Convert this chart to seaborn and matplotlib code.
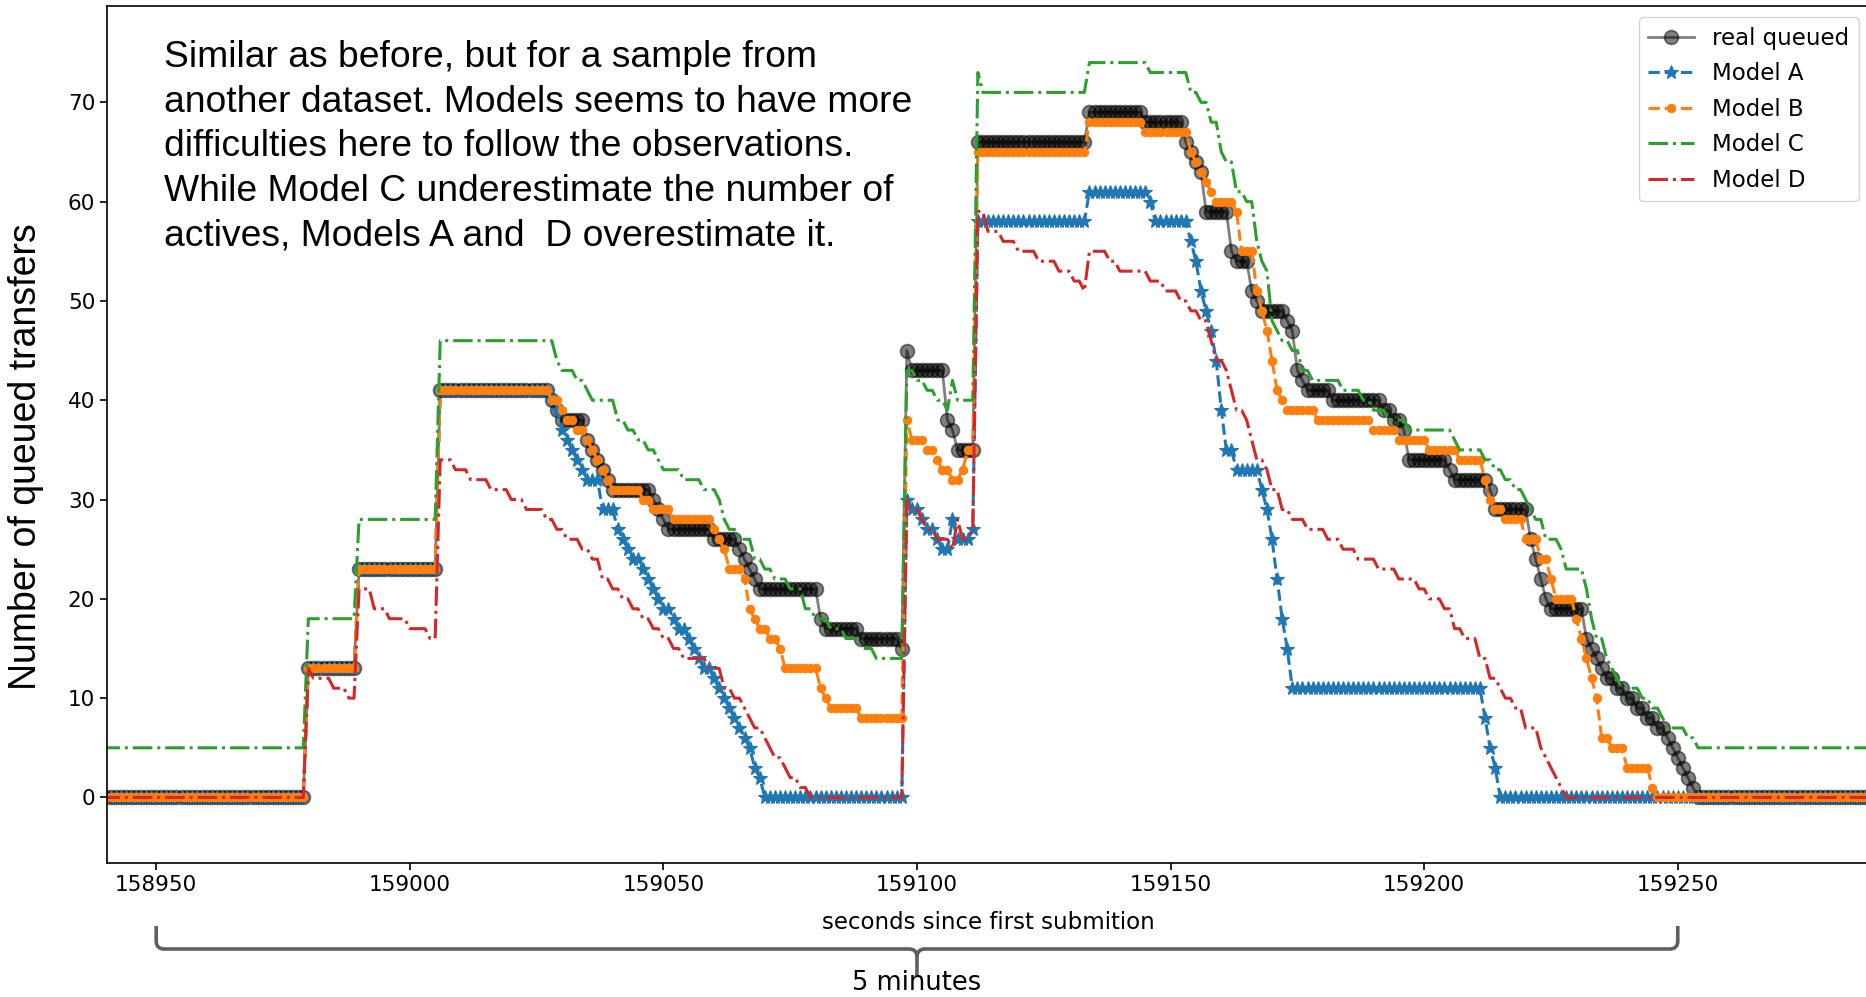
import numpy as np
import pandas as pd
import matplotlib
matplotlib.use("Agg")
import matplotlib.pyplot as plt
import seaborn as sns
from matplotlib.path import Path
from matplotlib.patches import PathPatch

# ---- data: (second where the value changes, new value) ----
real_t = [158939, 158980, 158990, 159006, 159028, 159029, 159030, 159035, 159036, 159037,
          159038, 159039, 159040, 159048, 159049, 159050, 159051, 159060, 159065, 159066,
          159067, 159068, 159069, 159081, 159082, 159089, 159097, 159098, 159099, 159106,
          159107, 159108, 159112, 159134, 159145, 159153, 159154, 159155, 159156, 159157,
          159162, 159163, 159166, 159167, 159168, 159173, 159174, 159175, 159176, 159177,
          159182, 159192, 159194, 159196, 159197, 159205, 159206, 159213, 159214, 159221,
          159222, 159223, 159224, 159225, 159232, 159233, 159234, 159235, 159236, 159238,
          159240, 159242, 159244, 159246, 159248, 159249, 159250, 159251, 159252, 159253,
          159254]
real_v = [0, 13, 23, 41, 40, 39, 38, 36, 35, 34,
          33, 32, 31, 30, 29, 28, 27, 26, 25, 24,
          23, 22, 21, 18, 17, 16, 15, 45, 43, 38,
          37, 35, 66, 69, 68, 66, 65, 64, 63, 59,
          55, 54, 51, 50, 49, 48, 47, 43, 42, 41,
          40, 39, 38, 37, 34, 33, 32, 31, 29, 26,
          24, 22, 20, 19, 16, 15, 14, 13, 12, 11,
          10, 9, 8, 7, 6, 5, 4, 3, 2, 1,
          0]

model_a_t = [158939, 158980, 158990, 159006, 159028, 159029, 159030, 159031, 159032, 159033,
             159034, 159035, 159038, 159041, 159042, 159043, 159044, 159046, 159047, 159048,
             159049, 159050, 159052, 159053, 159055, 159056, 159057, 159058, 159060, 159061,
             159062, 159063, 159064, 159065, 159066, 159067, 159068, 159069, 159070, 159098,
             159099, 159101, 159102, 159104, 159105, 159107, 159108, 159111, 159112, 159134,
             159146, 159147, 159154, 159155, 159156, 159157, 159158, 159159, 159160, 159161,
             159163, 159168, 159169, 159170, 159171, 159172, 159173, 159174, 159212, 159213,
             159214, 159215]
model_a_v = [0, 13, 23, 41, 40, 39, 37, 36, 35, 34,
             33, 32, 29, 27, 26, 25, 24, 23, 22, 21,
             20, 19, 18, 17, 16, 15, 14, 13, 12, 11,
             10, 9, 8, 7, 6, 5, 3, 2, 0, 30,
             29, 28, 27, 26, 25, 28, 26, 27, 58, 61,
             60, 58, 56, 54, 51, 49, 47, 44, 39, 35,
             33, 31, 29, 26, 22, 18, 15, 11, 8, 5,
             3, 0]

model_b_t = [158939, 158980, 158990, 159006, 159028, 159030, 159031, 159033, 159035, 159036,
             159037, 159038, 159039, 159040, 159046, 159048, 159052, 159060, 159061, 159062,
             159063, 159066, 159067, 159068, 159069, 159071, 159073, 159074, 159081, 159082,
             159083, 159089, 159098, 159099, 159102, 159104, 159105, 159107, 159109, 159110,
             159112, 159134, 159145, 159154, 159155, 159156, 159157, 159158, 159159, 159163,
             159164, 159167, 159168, 159169, 159170, 159171, 159172, 159173, 159179, 159190,
             159195, 159201, 159207, 159212, 159213, 159214, 159216, 159220, 159223, 159225,
             159226, 159230, 159231, 159232, 159233, 159234, 159235, 159237, 159240, 159245,
             159246]
model_b_v = [0, 13, 23, 41, 40, 39, 38, 37, 36, 35,
             34, 33, 32, 31, 30, 29, 28, 27, 26, 25,
             23, 22, 19, 18, 17, 16, 15, 13, 11, 10,
             9, 8, 38, 36, 35, 34, 33, 32, 33, 35,
             65, 68, 67, 65, 64, 63, 62, 61, 60, 59,
             55, 51, 49, 47, 44, 41, 40, 39, 38, 37,
             36, 35, 34, 32, 30, 29, 28, 26, 24, 22,
             20, 18, 16, 14, 12, 10, 6, 5, 3, 1,
             0]

model_c_t = [158939, 158980, 158990, 159006, 159029, 159030, 159033, 159035, 159036, 159041,
             159043, 159045, 159047, 159049, 159050, 159054, 159058, 159061, 159062, 159063,
             159065, 159068, 159070, 159072, 159075, 159078, 159080, 159083, 159086, 159089,
             159092, 159098, 159100, 159102, 159104, 159106, 159107, 159108, 159112, 159113,
             159134, 159146, 159154, 159156, 159158, 159160, 159161, 159163, 159165, 159167,
             159168, 159169, 159170, 159171, 159172, 159174, 159176, 159178, 159184, 159188,
             159190, 159193, 159197, 159206, 159207, 159212, 159214, 159216, 159218, 159220,
             159221, 159222, 159224, 159227, 159228, 159232, 159233, 159234, 159236, 159237,
             159238, 159239, 159243, 159245, 159247, 159248, 159252, 159254]
model_c_v = [5, 18, 28, 46, 44, 43, 42, 41, 40, 38,
             37, 36, 35, 34, 33, 32, 31, 30, 28, 27,
             26, 24, 23, 22, 21, 19, 18, 17, 16, 15,
             14, 43, 42, 41, 40, 39, 42, 40, 73, 71,
             74, 73, 71, 70, 68, 65, 64, 61, 60, 56,
             54, 53, 48, 47, 46, 45, 43, 42, 41, 40,
             39, 38, 37, 36, 35, 34, 33, 32, 31, 30,
             29, 28, 26, 25, 23, 21, 18, 16, 14, 13,
             12, 11, 10, 9, 8, 7, 6, 5]

model_d_t = [158939, 158980, 158981, 158985, 158988, 158990, 158993, 158996, 159000, 159004,
             159006, 159009, 159012, 159016, 159020, 159023, 159027, 159029, 159031, 159034,
             159036, 159038, 159040, 159042, 159044, 159046, 159048, 159050, 159052, 159054,
             159059, 159062, 159064, 159066, 159067, 159068, 159070, 159071, 159072, 159074,
             159075, 159077, 159079, 159098, 159099, 159101, 159102, 159104, 159107, 159108,
             159109, 159111, 159112, 159114, 159117, 159120, 159124, 159128, 159131, 159133,
             159134, 159138, 159140, 159146, 159149, 159152, 159154, 159156, 159158, 159159,
             159161, 159162, 159163, 159165, 159166, 159167, 159169, 159170, 159172, 159174,
             159177, 159181, 159184, 159187, 159191, 159195, 159199, 159201, 159204, 159206,
             159208, 159211, 159213, 159215, 159216, 159218, 159220, 159223, 159224, 159225,
             159226, 159227, 159228]
model_d_v = [0, 13, 12, 11, 10, 21, 19, 18, 17, 16,
             34, 33, 32, 31, 30, 29, 28, 27, 26, 25,
             24, 22, 21, 20, 19, 18, 17, 16, 15, 14,
             13, 11, 10, 9, 8, 7, 6, 5, 4, 3,
             2, 1, 0, 30, 29, 28, 27, 26, 25, 28,
             26, 27, 59, 57, 56, 55, 54, 53, 52, 51,
             55, 54, 53, 52, 51, 50, 49, 48, 46, 44,
             43, 41, 39, 38, 36, 34, 33, 31, 29, 28,
             27, 26, 25, 24, 23, 22, 21, 20, 19, 17,
             16, 14, 12, 11, 10, 9, 7, 5, 4, 3,
             2, 1, 0]

series_names = ["real queued", "Model A", "Model B", "Model C", "Model D"]
x_ticks = [158950, 159000, 159050, 159100, 159150, 159200, 159250]
y_ticks = [0, 10, 20, 30, 40, 50, 60, 70]
bracket_start = 158950
bracket_span = 300  # 5 minutes

note = ("Similar as before, but for a sample from\n"
        "another dataset. Models seems to have more\n"
        "difficulties here to follow the observations.\n"
        "While Model C underestimate the number of\n"
        "actives, Models A and  D overestimate it.")

# one sample per second, holding each read value until the next change
t = np.arange(158939, 159291)


def hold(change_t, change_v):
    idx = np.searchsorted(change_t, t, side="right") - 1
    return np.asarray(change_v)[idx]


df = pd.DataFrame({"t": t,
                   "real queued": hold(real_t, real_v),
                   "Model A": hold(model_a_t, model_a_v),
                   "Model B": hold(model_b_t, model_b_v),
                   "Model C": hold(model_c_t, model_c_v),
                   "Model D": hold(model_d_t, model_d_v)})

plt.rcParams['font.family'] = ['DejaVu Sans']
plt.rcParams['axes.linewidth'] = 1.2

fig = plt.figure(figsize=(18.66, 9.97), dpi=100)
ax = fig.add_axes([107 / 1866, 134 / 997, 1763 / 1866, 857 / 997])

styles = {
    "real queued": dict(color="k", alpha=0.5, marker="o", markersize=10, markeredgecolor="k",
                        markeredgewidth=1.2, linestyle="-", linewidth=2.0),
    "Model A": dict(color="tab:blue", marker="*", markersize=10, markeredgecolor="tab:blue",
                    markeredgewidth=0.8, linestyle="--", linewidth=2.2),
    "Model B": dict(color="tab:orange", marker=".", markersize=12, markeredgecolor="tab:orange",
                    markeredgewidth=0.8, linestyle="--", linewidth=2.2),
    "Model C": dict(color="tab:green", linestyle="-.", linewidth=2.2),
    "Model D": dict(color="tab:red", linestyle="-.", linewidth=2.2),
}

for name in series_names:
    sns.lineplot(data=df, x="t", y=name, ax=ax, label=name, estimator=None, sort=False,
                 **styles[name])

ax.set_xlim(158940.3, 159287.9)
ax.set_ylim(-6.6, 79.7)
ax.set_xticks(x_ticks)
ax.set_yticks(y_ticks)
ax.ticklabel_format(useOffset=False, style="plain", axis="x")
ax.tick_params(labelsize=15.5, length=5, width=1.2)
ax.set_xlabel("seconds since first submition", fontsize=16.5, labelpad=12)
ax.set_ylabel("")
ax.legend(loc="upper right", fontsize=16.5, frameon=True, handlelength=2.0,
          labelspacing=0.55)

fig.text(26 / 1866, 1 - 457 / 997, "Number of queued transfers", rotation=90,
         ha="center", va="center", fontsize=27, family=["Liberation Sans"])
fig.text(164 / 1866, 1 - 40 / 997, note, ha="left", va="top", fontsize=26.8,
         family=["Liberation Sans"], linespacing=1.36)

# curly bracket under the x axis marking 5 minutes
W, H = fig.bbox.width, fig.bbox.height
xl = ax.transData.transform((bracket_start, 0))[0] / W
xr = ax.transData.transform((bracket_start + bracket_span, 0))[0] / W
xm = (xl + xr) / 2
y_arm = 71 / H
y_line = 48 / H
y_tip = 20 / H
rx, ry = 8 / W, 8 / H
verts = [(xl, y_arm), (xl, y_line + ry), (xl, y_line), (xl + rx, y_line),
         (xm - rx, y_line), (xm, y_line), (xm, y_line - ry), (xm, y_tip),
         (xm, y_line - ry), (xm, y_line), (xm + rx, y_line),
         (xr - rx, y_line), (xr, y_line), (xr, y_line + ry), (xr, y_arm)]
codes = [Path.MOVETO, Path.LINETO, Path.CURVE3, Path.CURVE3,
         Path.LINETO, Path.CURVE3, Path.CURVE3, Path.LINETO,
         Path.MOVETO, Path.CURVE3, Path.CURVE3,
         Path.LINETO, Path.CURVE3, Path.CURVE3, Path.LINETO]
fig.text(xm, 14 / H, "5 minutes", ha="center", va="center", fontsize=18.5)
fig.add_artist(PathPatch(Path(verts, codes), transform=fig.transFigure, fill=False,
                         edgecolor="#5f5f5f", linewidth=2.6))

fig.savefig("out.png", dpi=100)
